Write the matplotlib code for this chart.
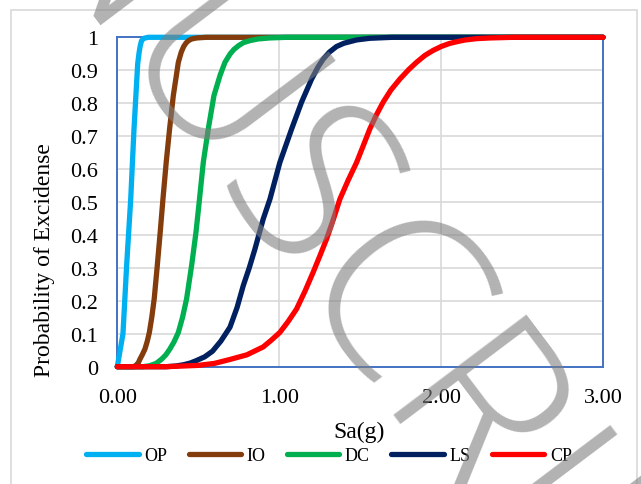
import matplotlib
matplotlib.use("Agg")
import matplotlib.pyplot as plt
import matplotlib.patheffects as pe
from matplotlib.patches import Rectangle

# ---- data ----
op_x = [0.0, 0.035, 0.058, 0.083, 0.103, 0.126, 0.135, 0.142, 0.15, 0.165, 0.19, 3.0]
op_y = [0.0, 0.10, 0.31, 0.51, 0.72, 0.92, 0.955, 0.975, 0.99, 0.997, 1.0, 1.0]

io_x = [0.0, 0.10, 0.115, 0.13, 0.14, 0.155, 0.171, 0.185, 0.198, 0.213, 0.228, 0.247,
        0.265, 0.282, 0.302, 0.323, 0.346, 0.377, 0.395, 0.41, 0.425, 0.44, 0.46,
        0.49, 0.55, 3.0]
io_y = [0.0, 0.0, 0.004, 0.012, 0.023, 0.037, 0.054, 0.077, 0.104, 0.15, 0.206, 0.307,
        0.408, 0.509, 0.62, 0.722, 0.823, 0.924, 0.955, 0.972, 0.983, 0.99, 0.995,
        0.998, 1.0, 1.0]

dc_x = [0.0, 0.16, 0.20, 0.24, 0.274, 0.30, 0.325, 0.35, 0.377, 0.403, 0.428, 0.459,
        0.486, 0.508, 0.531, 0.562, 0.597, 0.635, 0.665, 0.696, 0.72, 0.75, 0.78,
        0.82, 0.87, 0.94, 1.05, 3.0]
dc_y = [0.0, 0.0, 0.003, 0.01, 0.023, 0.036, 0.054, 0.075, 0.104, 0.15, 0.206, 0.307,
        0.408, 0.51, 0.62, 0.722, 0.823, 0.885, 0.924, 0.949, 0.963, 0.975, 0.984,
        0.99, 0.995, 0.998, 1.0, 1.0]

ls_x = [0.0, 0.30, 0.36, 0.41, 0.45, 0.486, 0.54, 0.588, 0.64, 0.696, 0.74, 0.778,
        0.815, 0.85, 0.901, 0.943, 1.004, 1.077, 1.138, 1.20, 1.24, 1.272, 1.31,
        1.354, 1.40, 1.478, 1.56, 1.70, 3.0]
ls_y = [0.0, 0.0, 0.002, 0.006, 0.011, 0.018, 0.03, 0.047, 0.078, 0.12, 0.18, 0.246,
        0.30, 0.357, 0.448, 0.509, 0.62, 0.722, 0.803, 0.873, 0.91, 0.934, 0.955,
        0.972, 0.982, 0.992, 0.997, 1.0, 1.0]

cp_x = [0.0, 0.30, 0.50, 0.60, 0.696, 0.80, 0.901, 0.95, 1.004, 1.055, 1.107, 1.16,
        1.21, 1.25, 1.293, 1.335, 1.375, 1.425, 1.478, 1.52, 1.56, 1.60, 1.642, 1.69,
        1.745, 1.80, 1.848, 1.90, 1.95, 2.00, 2.05, 2.10, 2.15, 2.22, 2.30, 2.45, 3.0]
cp_y = [0.0, 0.0, 0.004, 0.01, 0.022, 0.036, 0.06, 0.08, 0.104, 0.137, 0.175, 0.23,
        0.287, 0.335, 0.388, 0.448, 0.509, 0.565, 0.62, 0.672, 0.722, 0.764, 0.803,
        0.84, 0.873, 0.902, 0.924, 0.945, 0.96, 0.972, 0.981, 0.987, 0.992, 0.996,
        0.998, 1.0, 1.0]

series_names = ["OP", "IO", "DC", "LS", "CP"]
series_colors = ["#00B0F0", "#843C0C", "#00B050", "#002060", "#FF0000"]
series_x = [op_x, io_x, dc_x, ls_x, cp_x]
series_y = [op_y, io_y, dc_y, ls_y, cp_y]

x_ticks = [0, 1, 2, 3]
x_tick_labels = ["0.00", "1.00", "2.00", "3.00"]
y_ticks = [0, 0.1, 0.2, 0.3, 0.4, 0.5, 0.6, 0.7, 0.8, 0.9, 1.0]
y_tick_labels = ["0", "0.1", "0.2", "0.3", "0.4", "0.5", "0.6", "0.7", "0.8", "0.9", "1"]

# ---- figure ----
plt.rcParams['font.family'] = ['Liberation Serif', 'DejaVu Serif']
W, H = 641, 485
fig = plt.figure(figsize=(W / 100, H / 100), dpi=100)
fig.patch.set_facecolor("white")

# outer chart border
fig.add_artist(Rectangle((11 / W, -0.05), (637 - 11) / W, (H - 11) / H + 0.05,
                         transform=fig.transFigure, fill=False,
                         edgecolor="#d9d9d9", lw=1.2))

ax = fig.add_axes([117.3 / W, (H - 367.7) / H, (603 - 117.3) / W, (367.7 - 38.3) / H])
ax.set_xlim(0, 3)
ax.set_ylim(0, 1)
ax.set_xticks(x_ticks)
ax.set_xticklabels(x_tick_labels)
ax.set_yticks(y_ticks)
ax.set_yticklabels(y_tick_labels)
ax.tick_params(axis="both", length=0, labelsize=16)
ax.tick_params(axis="x", pad=15)
ax.tick_params(axis="y", pad=14)
ax.grid(True, color="#d9d9d9", lw=1.2)
ax.set_axisbelow(True)
for s in ax.spines.values():
    s.set_color("#4472C4")
    s.set_linewidth(1.4)

shadow = [pe.SimpleLineShadow(offset=(1.5, -2.5), shadow_color="k", alpha=0.14, linewidth=6),
          pe.SimpleLineShadow(offset=(2.5, -4.5), shadow_color="k", alpha=0.08, linewidth=9),
          pe.Normal()]

for name, c, xs, ys in zip(series_names, series_colors, series_x, series_y):
    ax.plot(xs, ys, color=c, lw=3.2, label=name, clip_on=False,
            solid_joinstyle="round", solid_capstyle="round", path_effects=shadow, zorder=3)

fig.text(45 / W, 1 - 260.5 / H, "Probability of Excidense", rotation=90,
         ha="center", va="center", fontsize=17)
fig.text(358.7 / W, 1 - 432 / H, "Sa(g)", ha="center", va="center", fontsize=17)

handles, labels = ax.get_legend_handles_labels()
for h in handles:
    h.set_path_effects([pe.Normal()])
    h.set_linewidth(3.8)
leg = fig.legend(handles, labels, loc="center", bbox_to_anchor=(329 / W, 1 - 457 / H),
                 ncol=5, frameon=False, fontsize=13, handlelength=2.9,
                 handletextpad=0.3, columnspacing=1.2, borderaxespad=0)

# watermark
fig.text(269 / W, 1 - 181 / H, "MANUSCRIPT", rotation=-53, rotation_mode="anchor",
         ha="center", va="center", fontsize=168, family="Open Sans",
         fontweight="light", color="#7f7f7f", alpha=0.6, zorder=10)

fig.savefig("out.png", dpi=100)
